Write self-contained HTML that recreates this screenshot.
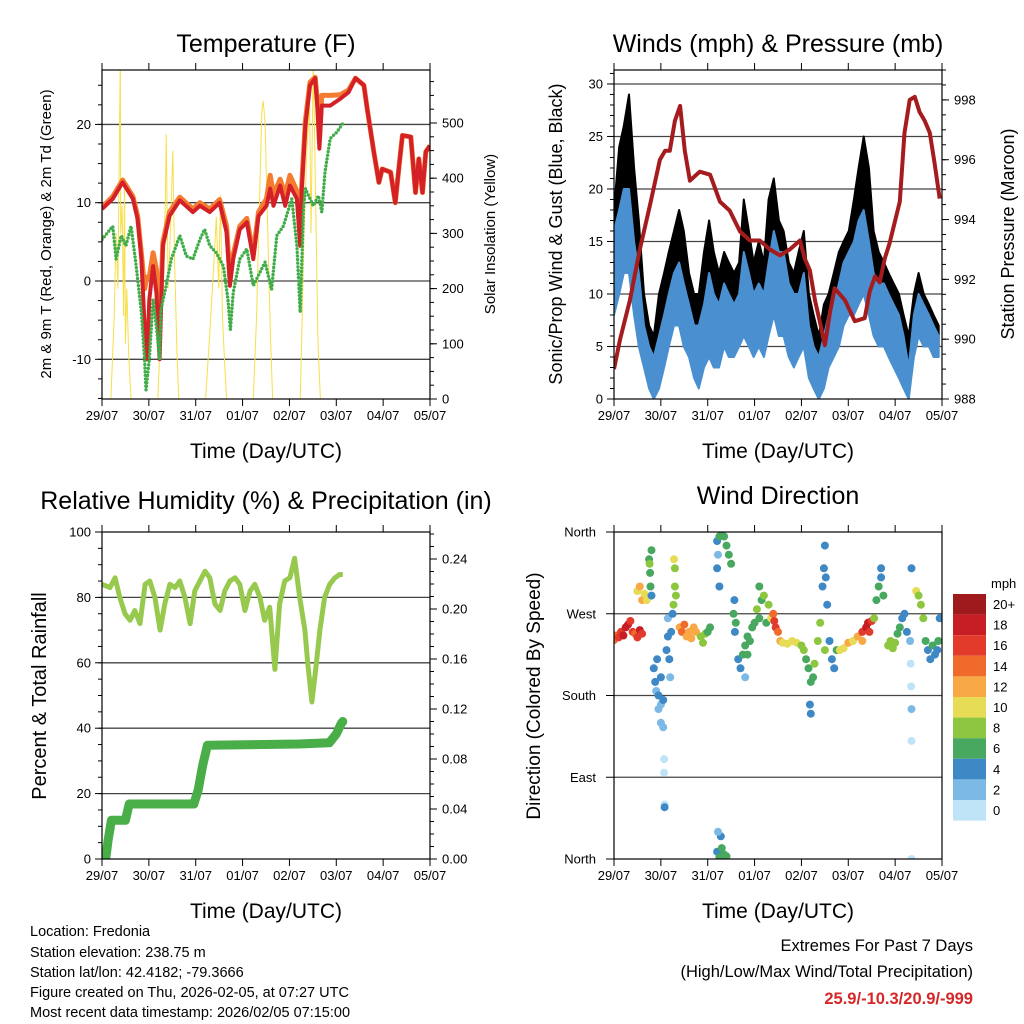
<!DOCTYPE html>
<html><head><meta charset="utf-8"><style>
html,body{margin:0;padding:0;background:#fff;}
svg{display:block;font-family:"Liberation Sans",sans-serif;}
</style></head><body>
<svg id="chart" width="1024" height="1024" viewBox="0 0 1024 1024" xmlns="http://www.w3.org/2000/svg">
<rect x="0" y="0" width="1024" height="1024" fill="#fff"/>
<g id="layer"></g>
<g font-size="14.5" fill="#000">
<text x="30" y="936">Location: Fredonia</text>
<text x="30" y="957">Station elevation: 238.75 m</text>
<text x="30" y="977">Station lat/lon: 42.4182; -79.3666</text>
<text x="30" y="997">Figure created on Thu, 2026-02-05, at 07:27 UTC</text>
<text x="30" y="1017">Most recent data timestamp: 2026/02/05 07:15:00</text>
</g>
<g text-anchor="end">
<text x="973" y="951" font-size="16.5">Extremes For Past 7 Days</text>
<text x="973" y="977" font-size="16.5">(High/Low/Max Wind/Total Precipitation)</text>
<text x="973" y="1004" font-size="16.5" font-weight="bold" fill="#d62728">25.9/-10.3/20.9/-999</text>
</g>
</svg>
<script>
// ---------- data ----------
const dayLabels = ["29/07","30/07","31/07","01/07","02/07","03/07","04/07","05/07"];
// Temperature panel
const t9Days = [0,0.23,0.44,0.66,0.76,0.84,0.91,0.96,1.01,1.09,1.16,1.23,1.30,1.44,1.66,1.94,2.09,2.30,2.51,2.66,2.73,2.80,2.94,3.09,3.23,3.34,3.51,3.59,3.66,3.80,3.91,4.01,4.16,4.23,4.26,4.34,4.44,4.55,4.60,4.64,4.69,4.87,5.09,5.26,5.41,5.59,5.66,5.80,5.91,5.98,6.16,6.26,6.34,6.41,6.59,6.69,6.76,6.84,6.91,7.0];
const t9Vals = [9.2,10.5,12.6,10.5,7.9,2.8,-5.8,-10,-2.4,1.9,-1.5,-10,4.5,8.3,10.3,8.8,9.6,8.8,10,6.2,-0.6,2.8,6.6,7.5,2.8,8.3,9.6,11.8,9.6,12.2,9.6,12.2,10.5,4.5,11.3,19.9,25,25.9,22,16.9,22.4,22.4,23.3,24.1,25.9,25,22,16.5,12.6,14.3,13.9,10,14.7,18.6,18.4,11.3,15.6,11.3,16.5,17.3];
const t2Vals = [9.4,10.8,12.9,10.8,8.3,3.5,-1,0.5,0.5,3.6,1.5,-6,5,8.8,10.7,9.2,10,9.2,10.4,7,0.5,3.4,7,8,3.5,8.8,10.5,13.5,11,13,11,13.5,11.5,5.5,12,20.5,25.4,26,22.8,18,23.7,23.7,23.8,24.4,25.9,25,22,16.5,12.6,14.3,13.9,10,14.7,18.6,18.4,11.3,15.6,11.3,16.5,17.3];
const tdDays = [0,0.23,0.30,0.41,0.51,0.62,0.73,0.84,0.91,0.94,1.01,1.09,1.16,1.23,1.26,1.37,1.48,1.66,1.80,1.94,2.09,2.19,2.30,2.44,2.59,2.69,2.74,2.80,2.94,3.09,3.23,3.37,3.48,3.62,3.73,3.87,4.05,4.16,4.23,4.30,4.34,4.44,4.51,4.62,4.69,4.76,4.87,5.01,5.16];
const tdVals = [5.3,7,2.8,5.8,4.5,7,1.9,-4,-10,-13.9,-10,-2.4,-5.8,-10,-3.6,-0.6,2.8,5.8,3.2,2.8,5.3,6.6,4.5,3.6,1.9,-2.4,-6.2,-1.5,2.8,4.1,-0.6,1.1,2.4,-1.1,5.8,7,10.5,4.5,-4,9.2,11.8,10.5,9.6,10.9,8.8,13.9,18.2,19,20.3];
const solarDays = [0.19,0.26,0.30,0.34,0.37,0.39,0.40,0.43,0.46,0.48,0.50,0.53,0.57,0.62, 1.19,1.24,1.30,1.35,1.37,1.41,1.46,1.51,1.55,1.60,1.64, 2.21,2.30,2.39,2.44,2.49,2.53,2.57,2.62,2.66, 3.23,3.30,3.36,3.41,3.44,3.48,3.53,3.59,3.64, 4.23,4.26,4.31,4.37,4.43,4.46,4.51,4.56,4.61,4.66];
const solarVals = [0,150,300,200,450,620,300,350,150,400,100,200,80,0, 0,100,250,350,480,200,300,450,250,80,0, 0,120,250,330,200,370,150,60,0, 0,150,350,520,540,500,330,130,0, 0,100,300,450,540,300,620,350,100,0];
// Winds panel
const windDays = [0,.11,.21,.32,.43,.53,.64,.75,.85,.96,1.07,1.17,1.28,1.39,1.49,1.60,1.71,1.81,1.92,2.03,2.13,2.24,2.35,2.45,2.56,2.67,2.77,2.88,2.98,3.09,3.20,3.30,3.41,3.52,3.62,3.73,3.84,3.94,4.05,4.16,4.26,4.37,4.48,4.58,4.69,4.80,4.90,5.01,5.12,5.22,5.33,5.44,5.54,5.65,5.76,5.86,5.97,6.08,6.18,6.29,6.40,6.50,6.61,6.72,6.82,6.93];
const gustHi = [18,24,26,29,22,17,10,7,6,10,12,14,16,18,16,12,10,10,14,17,14,12,14,13,12,13,19,16,13,15,13,19,21,17,16,13,12,14,16,10,8,6,9,10,12,14,15,16,19,22,25,22,16,14,13,12,11,10,8,6,10,12,10,9,8,7];
const gustLo = [12,14,16,18,12,8,5,3,2,4,6,8,10,10,8,7,5,4,6,8,6,6,8,7,6,7,9,8,7,8,7,10,12,10,10,8,6,7,8,5,3,2,3,5,7,8,10,11,12,13,15,13,10,9,8,7,6,5,3,0,6,8,7,6,5,5];
const windHi = [16,18,20,20,15,12,7,5,4,6,8,10,12,13,11,9,7,7,9,12,10,9,11,10,9,10,14,12,10,11,10,13,16,14,14,11,10,10,12,7,5,4,6,8,9,11,13,14,15,17,18,15,12,11,11,10,9,8,6,3,8,10,9,8,7,6];
const windLo = [8,10,12,12,8,5,3,1,0,1,3,5,7,7,5,4,2,1,3,4,3,3,5,4,4,5,6,5,4,5,4,6,8,6,6,4,3,4,5,2,1,0,1,3,4,5,7,8,8,9,10,8,6,5,5,4,3,2,1,0,4,6,5,5,4,4];
const presDays = [0,.13,.34,.55,.77,.98,1.09,1.19,1.30,1.41,1.51,1.62,1.83,2.05,2.26,2.47,2.69,2.90,3.11,3.33,3.54,3.75,3.97,4.07,4.18,4.29,4.39,4.50,4.61,4.71,4.93,5.14,5.35,5.46,5.57,5.67,5.78,5.88,6.10,6.20,6.31,6.42,6.52,6.63,6.74,6.84,6.95];
const presVals = [989.0,990.0,991.3,993.0,994.5,996.0,996.3,996.3,997.3,997.8,996.3,995.3,995.6,995.5,994.6,994.3,993.6,993.3,993.3,993.0,992.8,993.0,993.3,992.7,992.3,991.3,990.6,989.8,990.9,991.7,991.3,990.6,990.7,991.6,992.1,991.9,992.7,993.2,994.6,996.9,998.0,998.1,997.6,997.3,996.9,995.9,994.7];
// RH panel
const rhDays = [0,.17,.28,.38,.49,.60,.70,.81,.92,1.02,1.13,1.24,1.34,1.45,1.56,1.66,1.77,1.88,1.98,2.09,2.20,2.30,2.41,2.52,2.62,2.73,2.84,2.94,3.05,3.16,3.26,3.37,3.47,3.58,3.69,3.79,3.90,4.01,4.11,4.22,4.33,4.39,4.48,4.56,4.65,4.75,4.86,4.97,5.07,5.14];
const rhVals = [84,83,86,80,75,73,76,72,84,85,80,70,78,84,83,85,80,72,82,85,88,86,78,76,82,85,86,84,76,82,84,80,73,77,58,78,85,86,92,80,70,60,48,58,70,80,84,86,87,87];
const rainDays = [0,0.08,0.13,0.2,0.5,0.58,1.96,2.05,2.15,2.25,4.2,4.85,5.0,5.1,5.14];
const rainVals = [0,0,0.015,0.031,0.031,0.044,0.044,0.055,0.075,0.091,0.092,0.093,0.1,0.108,0.11];
// Wind direction panel
const dirDays = [0,0.05,0.1,0.15,0.2,0.25,0.3,0.35,0.4,0.45,0.5,0.55,0.6,0.6,0.5,0.55,0.65,0.7, 0.75,0.77,0.78,0.8,0.8,0.76, 0.85,0.88,0.9,0.95,0.95,1.0,1.0,1.05,1.05,1.07,1.07,1.08,1.08,1.0,0.92, 1.12,1.15,1.15,1.18,1.2,1.22,1.25, 1.27,1.3,1.3,1.28,1.32, 1.4,1.45,1.5,1.55,1.6,1.65,1.7,1.75, 1.85,1.9,1.95,2.0,2.05, 2.2,2.25,2.3,2.35,2.4,2.45,2.5,2.2,2.22,2.25, 2.2,2.25,2.3,2.35,2.4,2.28,2.22, 2.55,2.57,2.6,2.58, 2.65,2.7,2.75,2.8,2.85,2.9,2.95,2.85,2.8, 3.0,3.05,3.1,3.15,3.1,3.2,3.25,3.3,3.35, 3.4,3.42,3.45,3.5, 3.55,3.6,3.7,3.8,3.9,4.0, 4.05,4.1,4.15,4.2,4.18,4.2,4.25,4.28, 4.35,4.4,4.45,4.48,4.5,4.52,4.55,4.5, 4.6,4.65,4.7,4.75, 4.82,4.9,5.0,5.1,5.2,5.3, 5.3,5.38,5.42,5.45,5.5, 5.55,5.6,5.65,5.7,5.7,5.75, 5.85,5.9,5.95,6.0,6.05,6.1, 6.15,6.2,6.25, 6.32,6.33,6.34,6.35,6.35,6.35,6.35, 6.45,6.5,6.55,6.6, 6.65,6.7,6.75,6.8,6.85,6.9,6.95,6.92];
const dirDeg = [241,246,244,250,246,255,258,262,250,248,244,252,248,285,295,300,292,285, 330,315,300,290,340,325, 210,195,185,180,165,170,150,145,175,110,95,60,57,200,220, 230,245,265,220,200,250,270, 280,300,320,330,290, 255,250,258,245,250,243,255,250, 245,238,248,250,255, 350,355,360,355,345,335,325,320,335,300, 8,2,12,5,3,25,30, 270,285,260,250, 220,210,225,235,245,240,255,225,200, 260,275,265,285,300,290,260,280,265, 270,262,255,250, 240,238,237,240,238,235, 230,220,210,195,170,160,200,215, 240,260,300,320,345,310,280,230, 240,220,210,230, 230,232,238,240,245,240, 250,255,260,250,262, 265,285,300,310,320,290, 235,240,232,238,248,255, 265,270,250, 240,215,190,165,130,320,0, 295,290,280,265, 240,230,220,235,225,230,265,240];
const dirSpd = [14,15,16,16,18,18,18,16,16,14,16,18,16,12,10,12,10,10, 6,6,6,4,6,8, 4,4,2,4,2,2,2,2,4,1,1,1,4,4,4, 4,4,2,4,2,4,4, 8,8,8,10,8, 12,14,14,12,12,12,12,12, 8,8,8,6,6, 4,6,6,6,6,6,6,4,2,4, 4,6,6,6,6,4,2, 6,4,6,4, 4,4,6,6,6,6,6,6,2, 6,8,6,6,6,8,6,8,10, 14,16,16,14, 12,10,10,10,10,8, 8,6,6,6,4,4,6,8, 8,8,4,4,4,4,4,8, 4,4,4,6, 10,10,12,10,12,12, 16,18,18,16,16, 8,6,6,4,4,6, 8,8,8,8,6,6, 4,4,4, 2,1,1,2,1,4,1, 10,8,8,8, 6,4,4,6,4,4,4,6];
const speedLabels = ["20+","18","16","14","12","10","8","6","4","2","0"];
const speedColors = ["#9e1a1d","#c71e25","#e23b2b","#f06a2c","#f8a845","#e7dc55","#8dc63f","#48a860","#3d88c5","#7db9e5","#bfe4f7"];

// ---------- helpers ----------
const NS = "http://www.w3.org/2000/svg";
const layer = document.getElementById("layer");
function el(tag, attrs, parent) {
  const e = document.createElementNS(NS, tag);
  for (const k in attrs) e.setAttribute(k, attrs[k]);
  (parent || layer).appendChild(e);
  return e;
}
function txt(s, attrs, parent) { const t = el("text", attrs, parent); t.textContent = s; return t; }
function lin(d0, d1, r0, r1) { return v => r0 + (v - d0) / (d1 - d0) * (r1 - r0); }
function pathD(xs, ys, sx, sy) { return xs.map((d, i) => (i ? "L" : "M") + sx(d).toFixed(1) + "," + sy(ys[i]).toFixed(1)).join(""); }

function panel(name, box, leftDom, rightDom, leftTicks, leftFmt, rightTicks, rightFmt, grid, minorL, minorR) {
  const g = el("g", {});
  
  
  const P = {g, box};
  P.sx = lin(0, 7, box.x0, box.x1);
  P.sy = lin(leftDom[0], leftDom[1], box.y1, box.y0);
  P.sy2 = rightDom ? lin(rightDom[0], rightDom[1], box.y1, box.y0) : null;
  const clipId = name + "-clip";
  const cp = el("clipPath", {id: clipId}, g);
  el("rect", {x: box.x0, y: box.y0, width: box.x1 - box.x0, height: box.y1 - box.y0}, cp);
  const gridG = el("g", {}, g);
  
  
  grid.forEach(v => el("line", {x1: box.x0, x2: box.x1, y1: P.sy(v), y2: P.sy(v), stroke: "#444", "stroke-width": 1.3}, gridG));
  P.data = el("g", {"clip-path": "url(#" + clipId + ")"}, g);
  
  
  P.axes = el("g", {}, g);
  
  
  el("rect", {x: box.x0, y: box.y0, width: box.x1 - box.x0, height: box.y1 - box.y0, fill: "none", stroke: "#000", "stroke-width": 1.2}, P.axes);
  dayLabels.forEach((lab, i) => {
    const x = P.sx(i);
    el("line", {x1: x, x2: x, y1: box.y1, y2: box.y1 + 7, stroke: "#000"}, P.axes);
    el("line", {x1: x, x2: x, y1: box.y0, y2: box.y0 - 7, stroke: "#000"}, P.axes);
    const t = txt(lab, {x: x, y: box.y1 + 21, "font-size": 13, "text-anchor": "middle"}, P.axes);
    
    
  });
  leftTicks.forEach(v => {
    const y = P.sy(v);
    el("line", {x1: box.x0, x2: box.x0 - 7, y1: y, y2: y, stroke: "#000"}, P.axes);
    const t = txt(leftFmt(v), {x: box.x0 - 11, y: y + 4.5, "font-size": 13, "text-anchor": "end"}, P.axes);
    
    
  });
  (minorL || []).forEach(v => { const y = P.sy(v); el("line", {x1: box.x0, x2: box.x0 - 4, y1: y, y2: y, stroke: "#000"}, P.axes); });
  if (rightTicks) {
    rightTicks.forEach(v => {
      const y = P.sy2(v);
      el("line", {x1: box.x1, x2: box.x1 + 7, y1: y, y2: y, stroke: "#000"}, P.axes);
      const t = txt(rightFmt(v), {x: box.x1 + 12, y: y + 4.5, "font-size": 13}, P.axes);
      
      
    });
    (minorR || []).forEach(v => { const y = P.sy2(v); el("line", {x1: box.x1, x2: box.x1 + 4, y1: y, y2: y, stroke: "#000"}, P.axes); });
  }
  const xt = txt("Time (Day/UTC)", {x: (box.x0 + box.x1) / 2, y: box.y1 + 59, "font-size": 21, "text-anchor": "middle"}, P.axes);
  
  
  return P;
}
function range(a, b, s) { const r = []; for (let v = a; v <= b + 1e-9; v += s) r.push(+v.toFixed(4)); return r; }
function title(s, x, y, size) {
  const t = txt(s, {x, y, "font-size": size, "text-anchor": "middle"});
  
  
}
function vtitle(s, x, y, size, name) {
  const t = txt(s, {x: 0, y: 0, "font-size": size, "text-anchor": "middle", transform: "translate(" + x + "," + y + ") rotate(-90)"});
  
  
}

// ---------- Panel 1: Temperature ----------
const P1 = panel("temperature-panel", {x0: 102, x1: 430, y0: 70, y1: 399}, [-15.07, 26.95], [0, 596],
  [-10, 0, 10, 20], v => String(v), [0, 100, 200, 300, 400, 500], v => String(v), [-10, 0, 10, 20],
  range(-15, 25, 2.5), range(0, 575, 25));
title("Temperature (F)", 266, 52, 25);
vtitle("2m & 9m T (Red, Orange) & 2m Td (Green)", 51, 234, 15, "y-axis-title");
vtitle("Solar Insolation (Yellow)", 495, 234, 15, "y2-axis-title");
const solarLine = el("path", {d: pathD(solarDays, solarVals, P1.sx, P1.sy2), fill: "none", stroke: "#f7df4a", "stroke-width": 1}, P1.data);


const t2Line = el("path", {d: pathD(t9Days, t2Vals, P1.sx, P1.sy), fill: "none", stroke: "#f47c30", "stroke-width": 5, "stroke-linejoin": "round"}, P1.data);


const t9Line = el("path", {d: pathD(t9Days, t9Vals, P1.sx, P1.sy), fill: "none", stroke: "#d42027", "stroke-width": 4, "stroke-linejoin": "round"}, P1.data);


const tdLine = el("path", {d: pathD(tdDays, tdVals, P1.sx, P1.sy), fill: "none", stroke: "#41ad49", "stroke-width": 3.4, "stroke-linecap": "round", "stroke-dasharray": "0 3.6"}, P1.data);



// ---------- Panel 2: Winds ----------
const P2 = panel("winds-panel", {x0: 614, x1: 942, y0: 70, y1: 399}, [0, 31.33], [988, 999.0],
  [0, 5, 10, 15, 20, 25, 30], v => String(v), [988, 990, 992, 994, 996, 998], v => String(v), [5, 10, 15, 20, 25, 30],
  range(0, 31, 1), range(988, 999, 0.5));
title("Winds (mph) & Pressure (mb)", 778, 52, 25);
vtitle("Sonic/Prop Wind & Gust (Blue, Black)", 562, 234, 18, "y-axis-title");
vtitle("Station Pressure (Maroon)", 1014, 234, 18, "y2-axis-title");
function band(xs, hi, lo, sx, sy) {
  let d = pathD(xs, hi, sx, sy);
  for (let i = xs.length - 1; i >= 0; i--) d += "L" + sx(xs[i]).toFixed(1) + "," + sy(lo[i]).toFixed(1);
  return d + "Z";
}
const gustBand = el("path", {d: band(windDays, gustHi, gustLo, P2.sx, P2.sy), fill: "#000", stroke: "#000", "stroke-width": 2, "stroke-linejoin": "round"}, P2.data);


const windBand = el("path", {d: band(windDays, windHi, windLo, P2.sx, P2.sy), fill: "#4a90d0", stroke: "#4a90d0", "stroke-width": 2, "stroke-linejoin": "round"}, P2.data);


const presLine = el("path", {d: pathD(presDays, presVals, P2.sx, P2.sy2), fill: "none", stroke: "#a51c1f", "stroke-width": 4, "stroke-linejoin": "round"}, P2.data);



// ---------- Panel 3: RH & precip ----------
const P3 = panel("humidity-panel", {x0: 102, x1: 430, y0: 532, y1: 859}, [0, 100], [0, 0.2616],
  [0, 20, 40, 60, 80, 100], v => String(v), [0, 0.04, 0.08, 0.12, 0.16, 0.20, 0.24], v => v.toFixed(2), [20, 40, 60, 80],
  range(0, 100, 5), range(0, 0.26, 0.01));
title("Relative Humidity (%) & Precipitation (in)", 266, 509, 25);
vtitle("Percent & Total Rainfall", 46, 696, 20, "y-axis-title");
const rhLine = el("path", {d: pathD(rhDays, rhVals, P3.sx, P3.sy), fill: "none", stroke: "#98c94f", "stroke-width": 5, "stroke-linejoin": "round"}, P3.data);


const rainLine = el("path", {d: pathD(rainDays, rainVals, P3.sx, P3.sy2), fill: "none", stroke: "#49ad48", "stroke-width": 9, "stroke-linejoin": "round", "stroke-linecap": "round"}, P3.data);



// ---------- Panel 4: Wind direction ----------
const P4 = panel("wind-direction-panel", {x0: 614, x1: 942, y0: 532, y1: 859}, [0, 360], null,
  [], v => "", null, null, [90, 180, 270], [], []);
["North","East","South","West","North"].forEach((lab, i) => {
  const y = P4.sy(i * 90);
  el("line", {x1: 614, x2: 606, y1: y, y2: y, stroke: "#000"}, P4.axes);
  const t = txt(lab, {x: 596, y: y + 4.5, "font-size": 13, "text-anchor": "end"}, P4.axes);
  
  
});
title("Wind Direction", 778, 504, 25);
vtitle("Direction (Colored By Speed)", 540, 696, 19, "y-axis-title");
function speedColor(s) { const idx = Math.min(10, Math.floor(s / 2)); return speedColors[10 - idx]; }
dirDays.forEach((d, i) => {
  const c = el("circle", {cx: P4.sx(d).toFixed(1), cy: P4.sy(dirDeg[i]).toFixed(1), r: 4, fill: speedColor(dirSpd[i])}, P4.data);
  
  
});
const cb = el("g", {});


const mt = txt("mph", {x: 991, y: 588, "font-size": 13}, cb);


speedLabels.forEach((lab, i) => {
  const y = 594 + i * 20.6;
  const r = el("rect", {x: 953, y: y, width: 33, height: 20.6, fill: speedColors[i]}, cb);
  
  
  const t = txt(lab, {x: 993, y: y + 15, "font-size": 13}, cb);
  
  
});
</script>
</body></html>
